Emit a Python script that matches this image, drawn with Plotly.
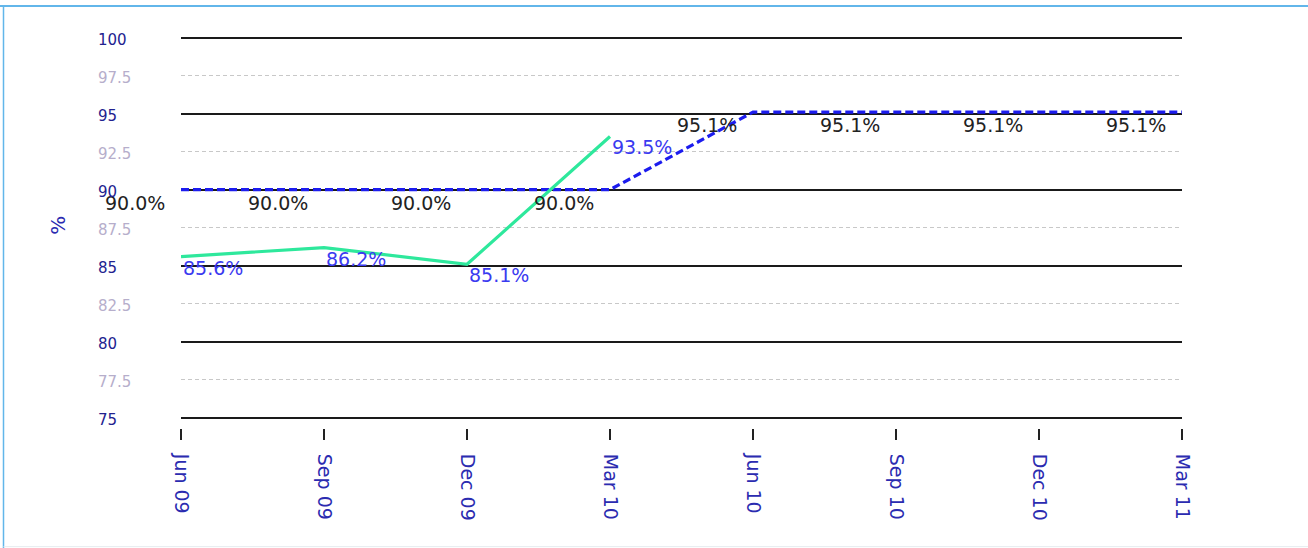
import plotly.graph_objects as go

# ---- data ----
quarters = ["Jun 09", "Sep 09", "Dec 09", "Mar 10", "Jun 10", "Sep 10", "Dec 10", "Mar 11"]
actual = [85.6, 86.2, 85.1, 93.5]
target = [90.0, 90.0, 90.0, 90.0, 95.1, 95.1, 95.1, 95.1]
major_ticks = [75, 80, 85, 90, 95, 100]
minor_ticks = [77.5, 82.5, 87.5, 92.5, 97.5]
y_title = "%"

# ---- layout geometry (pixels) ----
W, H = 1308, 548
Y_LO, Y_HI = 75, 100
PAD = 0.1                      # small range padding so edge gridlines are drawn
PX_PER_UNIT = (418 - 38) / (Y_HI - Y_LO)
L, R = 181, 126
T = 38 - PAD * PX_PER_UNIT
AXIS_Y = 428                   # where the x-axis ticks start
B = H - AXIS_Y
plot_w = W - L - R
plot_h = H - T - B
dom0 = (AXIS_Y - (418 + PAD * PX_PER_UNIT)) / plot_h


def px_x(px):
    return (px - L) / plot_w


def px_y(py):
    return (H - B - py) / plot_h


FONT = "DejaVu Sans"
GREEN = "#2ee89c"
BLUE = "#1c1cee"
NAVY = "#22228f"
XLAB = "#2b2bb0"
MINOR_LAB = "#b6aecb"

fig = go.Figure()
fig.add_trace(go.Scatter(
    x=quarters, y=target, mode="lines", name="Target",
    line=dict(color=BLUE, width=3.2, dash="8px,4px"),
    hoverinfo="skip",
))
fig.add_trace(go.Scatter(
    x=quarters[:len(actual)], y=actual, mode="lines", name="Actual",
    line=dict(color=GREEN, width=3.2),
    hoverinfo="skip",
))

annotations = []
# target labels: bottom-left of each point
for q, v in zip(quarters, target):
    annotations.append(dict(
        x=q, y=v, xref="x", yref="y", text=f"{v:.1f}%", showarrow=False,
        xanchor="right", yanchor="top", xshift=-14, yshift=0,
        font=dict(family=FONT, size=19, color="#222222"),
    ))
# actual labels: bottom-right of each point
for q, v in zip(quarters, actual):
    annotations.append(dict(
        x=q, y=v, xref="x", yref="y", text=f"{v:.1f}%", showarrow=False,
        xanchor="left", yanchor="top", xshift=0, yshift=2,
        font=dict(family=FONT, size=19, color="#3a3af0"),
    ))
# y tick labels, left aligned
for v in major_ticks:
    annotations.append(dict(
        x=px_x(96), y=v, xref="paper", yref="y", text=f"{v:g}", showarrow=False,
        xanchor="left", yanchor="middle", yshift=-2,
        font=dict(family=FONT, size=15, color=NAVY),
    ))
for v in minor_ticks:
    annotations.append(dict(
        x=px_x(96), y=v, xref="paper", yref="y", text=f"{v:g}", showarrow=False,
        xanchor="left", yanchor="middle", yshift=-2,
        font=dict(family=FONT, size=15, color=MINOR_LAB),
    ))
# y title
annotations.append(dict(
    x=px_x(58), y=px_y(226), xref="paper", yref="paper", text=y_title,
    showarrow=False, textangle=-90, xanchor="center", yanchor="middle",
    font=dict(family=FONT, size=20, color=XLAB),
))

shapes = [
    dict(type="line", xref="paper", yref="paper", x0=px_x(0), x1=px_x(W + 5),
         y0=px_y(6.5), y1=px_y(6.5), line=dict(color="#62b6ea", width=2)),
    dict(type="line", xref="paper", yref="paper", x0=px_x(3.5), x1=px_x(3.5),
         y0=px_y(6.5), y1=px_y(H + 5), line=dict(color="#62b6ea", width=1.5)),
    dict(type="line", xref="paper", yref="paper", x0=px_x(3.5), x1=px_x(W + 5),
         y0=px_y(546.5), y1=px_y(546.5), line=dict(color="#e6ecef", width=1)),
]

fig.update_layout(
    width=W, height=H,
    margin=dict(l=L, r=R, t=T, b=B, autoexpand=False),
    paper_bgcolor="white", plot_bgcolor="white",
    showlegend=False,
    font=dict(family=FONT),
    annotations=annotations,
    shapes=shapes,
    xaxis=dict(
        type="category", range=[0, len(quarters) - 1],
        anchor="free", position=0,
        showgrid=False, showline=False, zeroline=False,
        ticks="outside", ticklen=11, tickwidth=2, tickcolor="#222222",
        tickangle=90, ticklabelstandoff=10,
        tickfont=dict(family=FONT, size=19, color=XLAB),
    ),
    yaxis=dict(
        range=[Y_LO - PAD, Y_HI + PAD], domain=[dom0, 1],
        tickmode="array", tickvals=major_ticks,
        showticklabels=False, ticks="",
        showgrid=True, gridcolor="#1a1a1a", gridwidth=2,
        zeroline=False, showline=False,
        minor=dict(tickmode="array", tickvals=minor_ticks, showgrid=True,
                   gridcolor="#c8c8c8", griddash="4px,3px", gridwidth=1, ticks=""),
    ),
)

fig.write_html("out.html", config={"displayModeBar": False},
               post_script="document.body.style.margin='0';")
